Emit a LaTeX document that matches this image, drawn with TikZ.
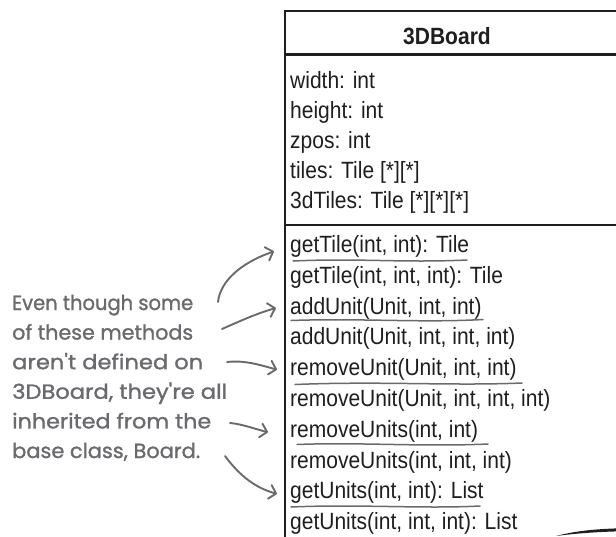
\documentclass[tikz,border=0pt]{standalone}
\usepackage{fontspec}
\usepackage{graphicx}
\setmainfont{Liberation Sans}
\newfontfamily\handfont[FakeBold=1.2]{Poppins}
\usetikzlibrary{arrows.meta}
\definecolor{pen}{RGB}{105,106,109}
\definecolor{ink}{RGB}{30,30,30}
\newcommand{\talltext}[1]{\scalebox{1}[1.12]{#1}}
\newcommand{\handline}[2]{\resizebox{#1}{\height}{#2}}
\tikzset{
  uml/.style={font=\fontsize{21}{24}\selectfont, inner sep=0pt, anchor=base west, text=ink},
  hand/.style={font=\handfont\fontsize{20.5}{24}\selectfont, inner sep=0pt, anchor=base west, text=pen},
  handarrow/.style={draw=pen, line width=1.9pt, line cap=round,
    -{Straight Barb[length=6.5pt,width=14pt,line width=1.9pt,round]}},
  uline/.style={draw=pen, line width=1.5pt, line cap=round},
  frame/.style={draw=ink, line width=2.3pt}
}
\begin{document}
\begin{tikzpicture}[x=1pt,y=-1pt]
\useasboundingbox (0,0) rectangle (616,536);
\begin{scope}
\clip (0,0) rectangle (616,536);
\draw[frame] (700,11) -- (285,11) -- (285,600);
\draw[frame] (285,54.5) -- (700,54.5);
\draw[frame] (285,225) -- (700,225);
% bubble stroke at bottom right
\fill[ink] (556,536) .. controls (575,531) and (595,529) .. (620,528.3)
  -- (620,531.3) .. controls (595,532) and (575,533.5) .. (556,536) -- cycle;
\end{scope}

\node[uml, font=\bfseries\fontsize{21}{24}\selectfont, anchor=base] (title) at (447,44.5) {\talltext{3DBoard}};

\node[uml] (a1) at (290,88.5) {\talltext{width: int}};
\node[uml] (a2) at (290,118.5) {\talltext{height: int}};
\node[uml] (a3) at (290,148.5) {\talltext{zpos: int}};
\node[uml] (a4) at (290,178.5) {\talltext{tiles: Tile [*][*]}};
\node[uml] (a5) at (290,208.5) {\talltext{3dTiles: Tile [*][*][*]}};

\node[uml] (m1) at (290,252.5) {\talltext{getTile(int, int): Tile}};
\node[uml] (m2) at (290,283.3) {\talltext{getTile(int, int, int): Tile}};
\node[uml] (m3) at (290,314.1) {\talltext{addUnit(Unit, int, int)}};
\node[uml] (m4) at (290,344.9) {\talltext{addUnit(Unit, int, int, int)}};
\node[uml] (m5) at (290,375.7) {\talltext{removeUnit(Unit, int, int)}};
\node[uml] (m6) at (290,406.5) {\talltext{removeUnit(Unit, int, int, int)}};
\node[uml] (m7) at (290,437.3) {\talltext{removeUnits(int, int)}};
\node[uml] (m8) at (290,468.1) {\talltext{removeUnits(int, int, int)}};
\node[uml] (m9) at (290,498.9) {\talltext{getUnits(int, int): List}};
\node[uml] (m10) at (290,529.7) {\talltext{getUnits(int, int, int): List}};

% underlines of inherited methods
\draw[uline] (293,261) .. controls (360,258) and (400,263) .. (467,260);
\draw[uline] (291,320.5) .. controls (360,318) and (420,323) .. (483,319.5);
\draw[uline] (295,384.5) .. controls (380,381) and (450,386) .. (522,383);
\draw[uline] (297,444.5) .. controls (360,442) and (420,447) .. (488,444);
\draw[uline] (291,507) .. controls (360,504) and (420,509) .. (480,506);

% handwritten note
\node[hand] (n1) at (12,310) {\handline{181pt}{Even though some}};
\node[hand] (n2) at (12,339.6) {\handline{181pt}{of these methods}};
\node[hand] (n3) at (12,369.2) {\handline{191pt}{aren't defined on}};
\node[hand] (n4) at (12,398.8) {\handline{215pt}{3DBoard, they're all}};
\node[hand] (n5) at (12,428.4) {\handline{199pt}{inherited from the}};
\node[hand] (n6) at (12,458) {\handline{188pt}{base class, Board.}};

\coordinate (s1) at (218,302);
\coordinate (s2) at (222,329);
\coordinate (s3) at (227,362);
\coordinate (s4) at (230,423);
\coordinate (s5) at (225,456);

\draw[handarrow] (s1) .. controls (220,282) and (240,263) .. ([xshift=-16pt,yshift=-5pt]m1.west);
\draw[handarrow] (s2) .. controls (240,321) and (258,313) .. ([xshift=-14pt,yshift=0pt]m3.west);
\draw[handarrow] (s3) .. controls (245,360) and (260,365) .. ([xshift=-13pt,yshift=0pt]m5.west);
\draw[handarrow] (s4) .. controls (242,424) and (255,429) .. ([xshift=-22pt,yshift=-1pt]m7.west);
\draw[handarrow] (s5) .. controls (237,472) and (252,487) .. ([xshift=-13pt,yshift=-1pt]m9.west);
\end{tikzpicture}
\end{document}
